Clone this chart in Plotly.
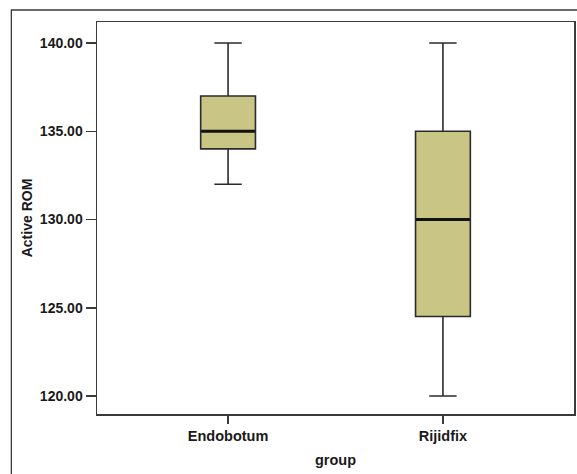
import plotly.graph_objects as go

groups = ["Endobotum", "Rijidfix"]
lower_whisker = [132, 120]
q1 = [134, 124.5]
median = [135, 130]
q3 = [137, 135]
upper_whisker = [140, 140]
y_ticks = [120, 125, 130, 135, 140]
y_tick_labels = ["120.00", "125.00", "130.00", "135.00", "140.00"]

fig = go.Figure()
fig.add_trace(go.Box(
    x=groups, q1=q1, median=median, q3=q3,
    lowerfence=lower_whisker, upperfence=upper_whisker,
    fillcolor="#C8C585", line=dict(color="#2b2b2b", width=1.6),
    width=0.255, whiskerwidth=0.5, boxpoints=False, hoverinfo="skip",
    showlegend=False,
))
# thicker median line drawn as a box with zero-height body at the median
fig.add_trace(go.Box(
    x=groups, q1=median, median=median, q3=median,
    lowerfence=median, upperfence=median,
    fillcolor="rgba(0,0,0,0)", line=dict(color="#111111", width=3),
    width=0.25, whiskerwidth=0, boxpoints=False, hoverinfo="skip",
    showlegend=False,
))

font = dict(family="Liberation Sans, Arial, sans-serif", color="#1a1a1a")

W, H = 577, 474
L, R, T, B = 97, 1, 22, 60
pw, ph = W - L - R, H - T - B

fig.update_layout(
    width=W, height=H,
    margin=dict(l=L, r=R, t=T, b=B),
    paper_bgcolor="white", plot_bgcolor="white",
    boxmode="overlay",
    font=font,
    xaxis=dict(
        type="category", categoryorder="array", categoryarray=groups,
        range=[-0.61, 1.61],
        showline=True, linecolor="#3a3a3a", linewidth=1.5, mirror=True,
        ticks="outside", ticklen=8, tickcolor="#3a3a3a", tickwidth=1.5,
        showgrid=False, zeroline=False,
        tickfont=dict(size=14.5, family="Liberation Sans, Arial", weight="bold"),
        title=dict(text="group", font=dict(size=14.5, weight="bold"), standoff=12),
    ),
    yaxis=dict(
        range=[118.98, 141.19],
        tickvals=y_ticks, ticktext=y_tick_labels,
        showline=True, linecolor="#3a3a3a", linewidth=1.5, mirror=True,
        ticks="outside", ticklen=10, tickcolor="#3a3a3a", tickwidth=1.5,
        showgrid=False, zeroline=False,
        tickfont=dict(size=14, family="Liberation Sans, Arial", weight="bold"),
        title=dict(text="Active ROM", font=dict(size=14, weight="bold"), standoff=4),
    ),
)

# outer frame around whole chart
fig.add_shape(type="rect", xref="paper", yref="paper",
              x0=(11 - L) / pw, x1=1.2, y0=-0.4, y1=1 + (T - 10) / ph,
              line=dict(color="#3a3a3a", width=1.3), layer="below")

fig.write_html(
    "out.html",
    config={"displayModeBar": False, "staticPlot": True},
    post_script="document.body.style.margin='0';document.body.style.overflow='hidden';",
)
